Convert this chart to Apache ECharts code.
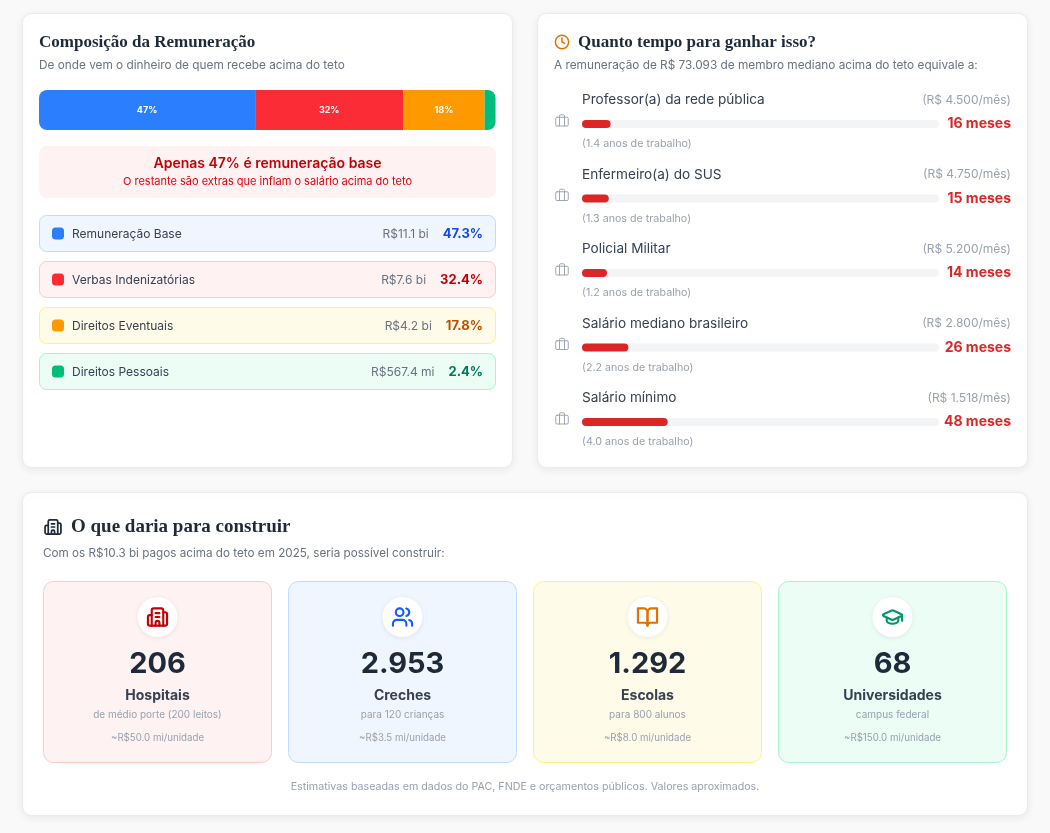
<!DOCTYPE html>
<html lang="pt-BR">
<head>
<meta charset="utf-8">
<title>Remuneração acima do teto</title>
<script src="https://cdn.jsdelivr.net/npm/echarts@6/dist/echarts.min.js"></script>
<style>
  html, body { margin: 0; padding: 0; background: #f9f9fa; }
  #chart { width: 1050px; height: 833px; }
</style>
</head>
<body>
<div id="chart"></div>
<script>
// composição da remuneração
const partNames = ['Remuneração Base', 'Verbas Indenizatórias', 'Direitos Eventuais', 'Direitos Pessoais']
const partShare = [47.3, 32.4, 17.8, 2.4]
const partAmount = ['R$11.1 bi', 'R$7.6 bi', 'R$4.2 bi', 'R$567.4 mi']

// quanto tempo para ganhar isso
const jobNames = ['Professor(a) da rede pública', 'Enfermeiro(a) do SUS', 'Policial Militar', 'Salário mediano brasileiro', 'Salário mínimo']
const jobSalary = ['R$ 4.500', 'R$ 4.750', 'R$ 5.200', 'R$ 2.800', 'R$ 1.518']
const jobMonths = [16, 15, 14, 26, 48]
const jobYears = ['1.4', '1.3', '1.2', '2.2', '4.0']

// o que daria para construir
const buildNames = ['Hospitais', 'Creches', 'Escolas', 'Universidades']
const buildCount = ['206', '2.953', '1.292', '68']
const buildDesc = ['de médio porte (200 leitos)', 'para 120 crianças', 'para 800 alunos', 'campus federal']
const buildCost = ['~R$50.0 mi/unidade', '~R$3.5 mi/unidade', '~R$8.0 mi/unidade', '~R$150.0 mi/unidade']

const sans = 'Inter'
const serif = '"Liberation Serif"'

const partColors = ['#2b7fff', '#fb2c36', '#fe9a00', '#00bc7d']
const rowFill = ['#eff6ff', '#fef2f2', '#fefce8', '#ecfdf5']
const rowStroke = ['#bedbff', '#ffc9c9', '#fff085', '#a4f4cf']
const pctColors = ['#1447e6', '#c10007', '#bb4d00', '#007a55']

const buildFill = ['#fef2f2', '#eff6ff', '#fefce8', '#ecfdf5']
const buildStroke = ['#ffc9c9', '#bedbff', '#fff085', '#a4f4cf']
const iconColors = ['#c10007', '#155dfc', '#e17100', '#009966']

const icons = {
  clock: '<circle cx="12" cy="12" r="10"/><polyline points="12 6 12 12 16 14"/>',
  briefcase: '<path d="M16 20V4a2 2 0 0 0-2-2h-4a2 2 0 0 0-2 2v16"/><rect width="20" height="14" x="2" y="6" rx="2"/>',
  building: '<path d="M10 12h4"/><path d="M10 8h4"/><path d="M14 21v-3a2 2 0 0 0-4 0v3"/><path d="M6 10H4a2 2 0 0 0-2 2v7a2 2 0 0 0 2 2h16a2 2 0 0 0 2-2V9a2 2 0 0 0-2-2h-2"/><path d="M6 21V5a2 2 0 0 1 2-2h8a2 2 0 0 1 2 2v16"/>',
  users: '<path d="M16 21v-2a4 4 0 0 0-4-4H6a4 4 0 0 0-4 4v2"/><circle cx="9" cy="7" r="4"/><path d="M22 21v-2a4 4 0 0 0-3-3.87"/><path d="M16 3.13a4 4 0 0 1 0 7.75"/>',
  book: '<path d="M2 3h6a4 4 0 0 1 4 4v14a3 3 0 0 0-3-3H2z"/><path d="M22 3h-6a4 4 0 0 0-4 4v14a3 3 0 0 1 3-3h7z"/>',
  cap: '<path d="M21.42 10.922a1 1 0 0 0-.019-1.838L12.83 5.18a2 2 0 0 0-1.66 0L2.6 9.08a1 1 0 0 0 0 1.832l8.57 3.908a2 2 0 0 0 1.66 0z"/><path d="M22 10v6"/><path d="M6 12.5V16a6 3 0 0 0 12 0v-3.5"/>'
}
const buildIcons = ['building', 'users', 'book', 'cap']

function iconUri (name, color, sw) {
  const svg = '<svg xmlns="http://www.w3.org/2000/svg" width="96" height="96" viewBox="0 0 24 24" fill="none" stroke="' +
    color + '" stroke-width="' + sw + '" stroke-linecap="round" stroke-linejoin="round">' + icons[name] + '</svg>'
  return 'data:image/svg+xml;charset=utf-8,' + encodeURIComponent(svg)
}

function txt (x, y, text, font, fill, align) {
  return {
    type: 'text', x: x, y: y, silent: true, z: 5,
    style: { text: text, font: font, fill: fill, textAlign: align || 'left', textVerticalAlign: 'middle' }
  }
}

function box (x, y, w, h, r, fill, stroke, shadow) {
  let style = { fill: fill, stroke: stroke, lineWidth: 1 }
  if (shadow) {
    style.shadowBlur = 8
    style.shadowOffsetY = 2
    style.shadowColor = 'rgba(0,0,0,0.07)'
  }
  return { type: 'rect', silent: true, z: 1, shape: { x: x, y: y, width: w, height: h, r: r }, style: style }
}

function img (name, color, cx, cy, size, sw) {
  return {
    type: 'image', silent: true, z: 5,
    style: { image: iconUri(name, color, sw || 2), x: cx - size / 2, y: cy - size / 2, width: size, height: size }
  }
}

let graphics = []

// cards
graphics.push(box(22.5, 13.5, 490, 454, 9, '#fff', '#ebebeb', true))
graphics.push(box(537.5, 13.5, 490, 454, 9, '#fff', '#ebebeb', true))
graphics.push(box(22.5, 492.5, 1005, 323, 9, '#fff', '#ebebeb', true))

// card 1
graphics.push(txt(39, 43, 'Composição da Remuneração', 'bold 17px ' + serif, '#1e2939'))
graphics.push(txt(39, 65, 'De onde vem o dinheiro de quem recebe acima do teto', '11.8px ' + sans, '#6a7282'))
graphics.push(box(39, 146, 457, 52, 8, '#fef2f2', null))
graphics.push(txt(267.5, 164, 'Apenas ' + Math.round(partShare[0]) + '% é remuneração base', '600 14px ' + sans, '#c10007', 'center'))
graphics.push(txt(267.5, 182, 'O restante são extras que inflam o salário acima do teto', '11px ' + sans, '#e7000b', 'center'))

partNames.forEach((name, i) => {
  const y = 215.5 + i * 46
  graphics.push(box(39.5, y, 456, 36, 7, rowFill[i], rowStroke[i]))
  graphics.push(box(52, y + 12, 12, 12, 3.5, partColors[i], null))
  graphics.push(txt(72, y + 18.5, name, '12px ' + sans, '#364153'))
  graphics.push({
    type: 'text', x: 483, y: y + 18.5, silent: true, z: 5,
    style: {
      text: '{a|' + partAmount[i] + '}{g|}{p|' + partShare[i].toFixed(1) + '%}',
      textAlign: 'right', textVerticalAlign: 'middle',
      rich: {
        a: { font: '12px ' + sans, fill: '#6a7282' },
        g: { width: 14 },
        p: { font: 'bold 13px ' + sans, fill: pctColors[i] }
      }
    }
  })
})

// card 2
graphics.push(img('clock', '#e17100', 562, 42, 16, 2.2))
graphics.push(txt(578, 43, 'Quanto tempo para ganhar isso?', 'bold 17px ' + serif, '#1e2939'))
graphics.push(txt(554, 65, 'A remuneração de R$ 73.093 de membro mediano acima do teto equivale a:', '11.8px ' + sans, '#6a7282'))

jobNames.forEach((name, i) => {
  const y = 124 + i * 74.5
  graphics.push(img('briefcase', '#99a1af', 562, y - 3, 15, 1.5))
  graphics.push(txt(582, y - 24, name, '13.6px ' + sans, '#364153'))
  graphics.push(txt(1011, y - 24, '(' + jobSalary[i] + '/mês)', '12px ' + sans, '#99a1af', 'right'))
  graphics.push(txt(1011, y, jobMonths[i] + ' meses', 'bold 14px ' + sans, '#dc2626', 'right'))
  graphics.push(txt(582, y + 20, '(' + jobYears[i] + ' anos de trabalho)', '10.7px ' + sans, '#99a1af'))
})

// card 3
graphics.push(img('building', '#1e2939', 53, 527, 19, 2.2))
graphics.push(txt(71, 527, 'O que daria para construir', 'bold 19px ' + serif, '#1e2939'))
graphics.push(txt(43, 553, 'Com os R$10.3 bi pagos acima do teto em 2025, seria possível construir:', '11.7px ' + sans, '#6a7282'))

buildNames.forEach((name, i) => {
  const x = 43.5 + i * 245
  const cx = x + 114
  graphics.push(box(x, 581.5, 228, 181, 10, buildFill[i], buildStroke[i]))
  graphics.push({
    type: 'circle', silent: true, z: 2,
    shape: { cx: cx, cy: 617, r: 20 },
    style: { fill: '#fff', shadowBlur: 5, shadowOffsetY: 1, shadowColor: 'rgba(0,0,0,0.08)' }
  })
  graphics.push(img(buildIcons[i], iconColors[i], cx, 617, 23, 2.2))
  graphics.push(txt(cx, 664, buildCount[i], 'bold 29px ' + sans, '#1e2939', 'center'))
  graphics.push(txt(cx, 696, name, 'bold 14px ' + sans, '#364153', 'center'))
  graphics.push(txt(cx, 715, buildDesc[i], '10px ' + sans, '#99a1af', 'center'))
  graphics.push(txt(cx, 738, buildCost[i], '9.7px ' + sans, '#99a1af', 'center'))
})

graphics.push(txt(525, 787, 'Estimativas baseadas em dados do PAC, FNDE e orçamentos públicos. Valores aproximados.', '10.7px ' + sans, '#99a1af', 'center'))

const lastPart = partShare.length - 1
let series = partShare.map((v, i) => ({
  type: 'bar',
  name: partNames[i],
  stack: 'composicao',
  xAxisIndex: 0,
  yAxisIndex: 0,
  data: [v],
  barWidth: 40,
  silent: true,
  z: 10,
  itemStyle: {
    color: partColors[i],
    borderRadius: i === 0 ? [8, 0, 0, 8] : (i === lastPart ? [0, 8, 8, 0] : 0)
  },
  label: {
    show: v >= 5,
    position: 'inside',
    formatter: Math.round(v) + '%',
    color: '#fff',
    fontFamily: sans,
    fontWeight: 'bold',
    fontSize: 9
  }
}))

series.push({
  type: 'bar',
  name: 'meses',
  xAxisIndex: 1,
  yAxisIndex: 1,
  data: jobMonths,
  barWidth: 8,
  silent: true,
  z: 10,
  showBackground: true,
  backgroundStyle: { color: '#f3f4f6', borderRadius: 4 },
  itemStyle: { color: '#dc2626', borderRadius: 4 }
})

let chart = echarts.init(document.getElementById('chart'))
chart.setOption({
  animation: false,
  backgroundColor: '#f9f9fa',
  grid: [
    { left: 39, top: 90, width: 457, height: 40 },
    { left: 582, top: 86.75, width: 357, height: 372.5 }
  ],
  xAxis: [
    { type: 'value', gridIndex: 0, min: 0, max: 100, show: false },
    { type: 'value', gridIndex: 1, min: 0, max: 200, show: false }
  ],
  yAxis: [
    { type: 'category', gridIndex: 0, data: ['Composição'], show: false },
    { type: 'category', gridIndex: 1, data: jobNames, inverse: true, show: false }
  ],
  graphic: { elements: graphics },
  series: series
})
</script>
</body>
</html>
